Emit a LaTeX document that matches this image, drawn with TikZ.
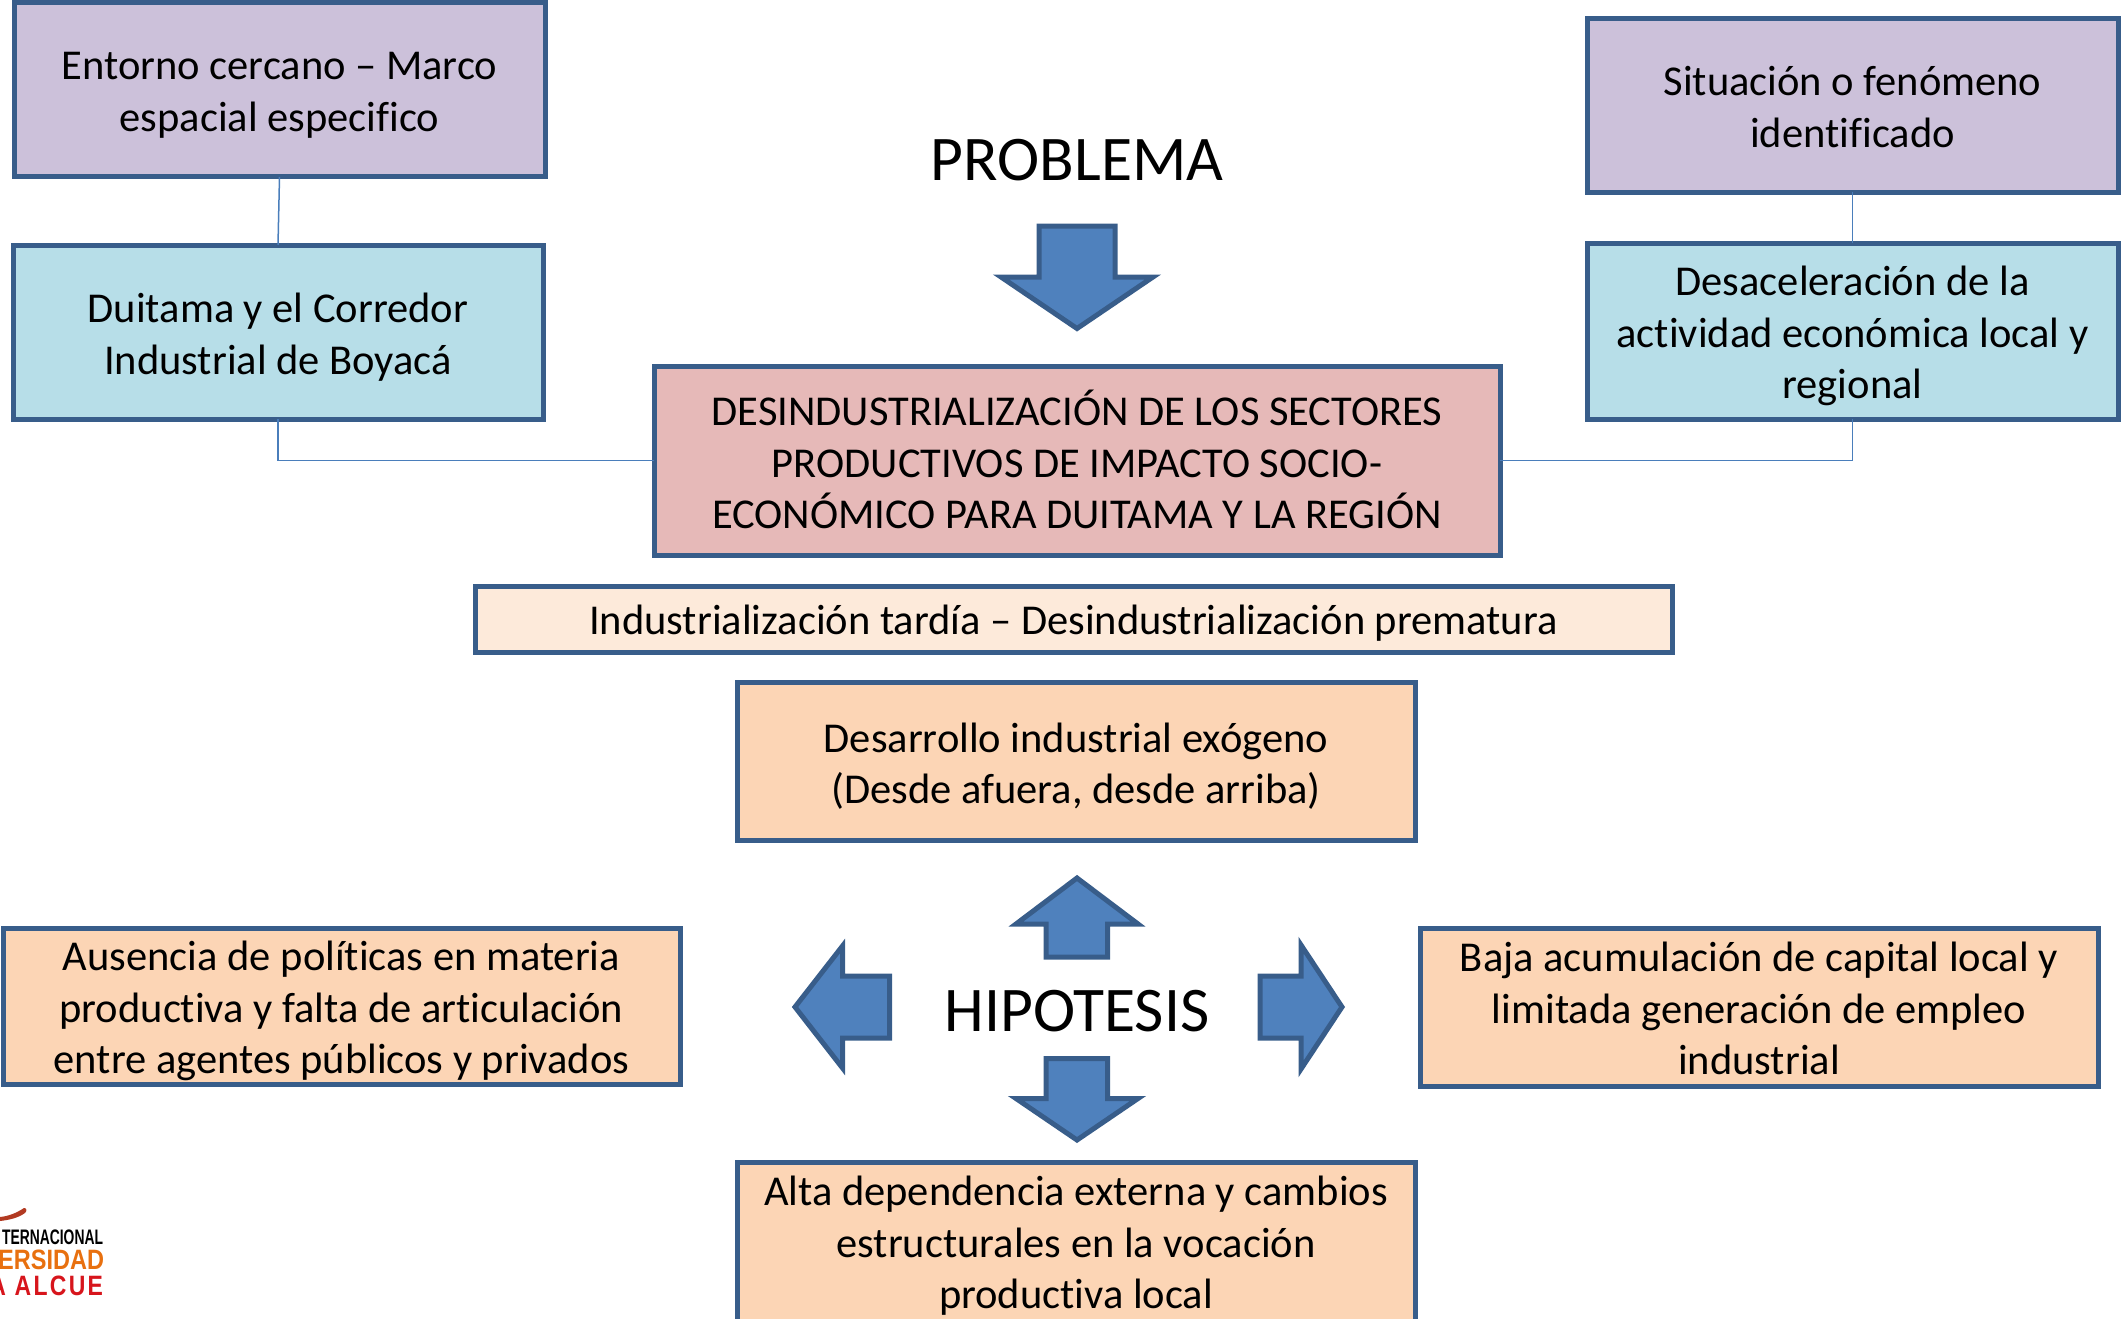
\documentclass[tikz,border=0pt]{standalone}
\usepackage{fontspec}
\setmainfont{Carlito}[Ligatures=NoCommon]
\newfontfamily\logofont{Liberation Sans}
\definecolor{edgeblue}{HTML}{385D8A}
\definecolor{arrowblue}{HTML}{4F81BD}
\definecolor{linkblue}{HTML}{4A7EBB}
\definecolor{boxpurple}{HTML}{CCC1DA}
\definecolor{boxcyan}{HTML}{B7DEE8}
\definecolor{boxred}{HTML}{E6B9B8}
\definecolor{boxcream}{HTML}{FDEADA}
\definecolor{boxorange}{HTML}{FCD5B5}
\definecolor{logored}{HTML}{D7151C}
\definecolor{logoorange}{HTML}{E8700F}
\definecolor{logoswoosh}{HTML}{B23A22}
\tikzset{
  every node/.style={inner sep=0pt,outer sep=0pt,align=center,text=black,font=\fontsize{42.5}{51.5}\selectfont},
  boxbase/.style={draw=edgeblue,line width=5pt,rectangle,anchor=north west},
  purplebox/.style={boxbase,fill=boxpurple},
  cyanbox/.style={boxbase,fill=boxcyan},
  redbox/.style={boxbase,fill=boxred},
  creambox/.style={boxbase,fill=boxcream},
  orangebox/.style={boxbase,fill=boxorange},
  bigtitle/.style={font=\fontsize{63.6}{70}\selectfont},
  blockarrow/.style={draw=edgeblue,line width=5pt,fill=arrowblue,line join=miter,miter limit=10},
  link/.style={draw=linkblue,line width=1.5pt},
  logotext/.style={anchor=east,font=\logofont\bfseries\fontsize{21}{21}\selectfont}
}
\begin{document}
\begin{tikzpicture}[x=1pt,y=-1pt]
\useasboundingbox (0,0) rectangle (2121,1319);
\clip (0,0) rectangle (2121,1319);
\node[purplebox,minimum width=531,minimum height=174,label={[yshift=-5.5pt]center:{Entorno cercano – Marco\\espacial especifico}}] (env) at (14,3) {};
\node[cyanbox,minimum width=530,minimum height=174,label={[yshift=-5pt]center:{Duitama y el Corredor\\Industrial de Boyacá}}] (dui) at (13,245) {};
\node[purplebox,minimum width=531,minimum height=173,label={[yshift=-1.5pt]center:{Situación o fenómeno\\identificado}}] (sit) at (1587,19) {};
\node[cyanbox,minimum width=531,minimum height=176,label={[yshift=-5pt]center:{Desaceleración de la\\actividad económica local y\\regional}}] (des) at (1587,243) {};
\node[redbox,minimum width=846,minimum height=189,label={[yshift=1pt]center:{DESINDUSTRIALIZACIÓN DE LOS SECTORES\\PRODUCTIVOS DE IMPACTO SOCIO-\\ECONÓMICO PARA DUITAMA Y LA REGIÓN}}] (main) at (654,366) {};
\node[creambox,minimum width=1197,minimum height=66,label={[yshift=-4pt]center:{Industrialización tardía – Desindustrialización prematura}}] (ind) at (475,586) {};
\node[orangebox,minimum width=678,minimum height=158,label={[yshift=-5pt]center:{Desarrollo industrial exógeno\\(Desde afuera, desde arriba)}}] (exo) at (737,682) {};
\node[orangebox,minimum width=677,minimum height=156,label={[yshift=-5pt]center:{Ausencia de políticas en materia\\productiva y falta de articulación\\entre agentes públicos y privados}}] (aus) at (3,928) {};
\node[orangebox,minimum width=678,minimum height=158,label={[yshift=-1.5pt]center:{Baja acumulación de capital local y\\limitada generación de empleo\\industrial}}] (baj) at (1420,928) {};
\node[orangebox,minimum width=678,minimum height=168,label={[yshift=0pt]center:{Alta dependencia externa y cambios\\estructurales en la vocación\\productiva local}}] (alt) at (737,1162) {};
\node[bigtitle] (prob) at (1077,160) {PROBLEMA};
\node[bigtitle] (hip) at (1077,1011) {HIPOTESIS};
\draw[link] (env.south) -- (dui.north);
\draw[link] (dui.south) |- (main.west);
\draw[link] (sit.south) -- (des.north);
\draw[link] (des.south) |- (main.east);
% block arrows
\draw[blockarrow] (1039,226) -- (1115,226) -- (1115,277) -- (1153,277) -- (1077,328.5) -- (1001,277) -- (1039,277) -- cycle;
\draw[blockarrow] (1077,878) -- (1138,924) -- (1107.5,924) -- (1107.5,957) -- (1046,957) -- (1046,924) -- (1016,924) -- cycle;
\draw[blockarrow] (1046,1058.5) -- (1107.5,1058.5) -- (1107.5,1098.5) -- (1138,1098.5) -- (1077,1140) -- (1016,1098.5) -- (1046,1098.5) -- cycle;
\draw[blockarrow] (795,1007) -- (842.5,946) -- (842.5,976) -- (889.5,976) -- (889.5,1038) -- (842.5,1038) -- (842.5,1068) -- cycle;
\draw[blockarrow] (1342,1007) -- (1301,945) -- (1301,976) -- (1260,976) -- (1260,1038) -- (1301,1038) -- (1301,1069) -- cycle;
% logo
\fill[logoswoosh] (0,1217) .. controls (10,1216) and (18,1212) .. (24,1208) .. controls (27,1208) and (27,1211) .. (25,1213) .. controls (18,1218) and (9,1220) .. (0,1221) -- cycle;
\node[logotext,text=black,xscale=0.66] (logoa) at (103,1237) {TERNACIONAL};
\node[logotext,text=logoorange,font=\logofont\bfseries\fontsize{28}{28}\selectfont,xscale=0.84] (logob) at (104,1260) {ERSIDAD};
\node[logotext,text=logored,font=\logofont\bfseries\fontsize{28}{28}\selectfont\addfontfeature{LetterSpace=10},xscale=0.82] (logoc) at (103,1286) {A ALCUE};
\end{tikzpicture}
\end{document}
